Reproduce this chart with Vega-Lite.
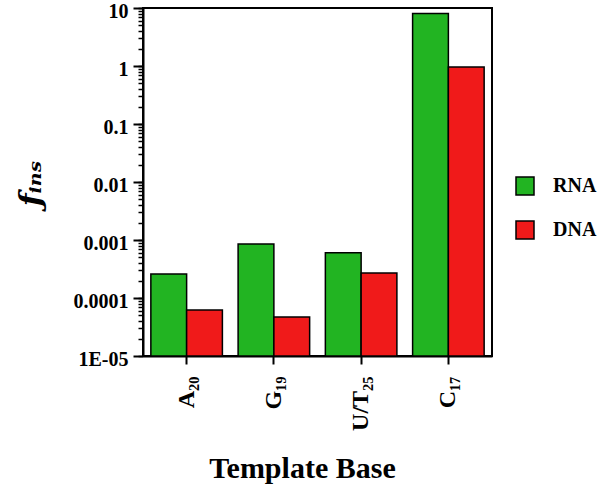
{
  "$schema": "https://vega.github.io/schema/vega-lite/v6.json",
  "width": 349,
  "height": 348,
  "autosize": {"type": "none"},
  "padding": {"left": 143, "top": 8, "right": 108, "bottom": 131},
  "background": "white",
  "config": {
    "view": {"stroke": "black", "strokeWidth": 2},
    "font": "Liberation Serif"
  },
  "data": {
    "values": [
      {"base": "A₂₀", "type": "RNA", "f": 0.00026},
      {"base": "A₂₀", "type": "DNA", "f": 0.000062},
      {"base": "G₁₉", "type": "RNA", "f": 0.00085},
      {"base": "G₁₉", "type": "DNA", "f": 0.000047},
      {"base": "U/T₂₅", "type": "RNA", "f": 0.0006},
      {"base": "U/T₂₅", "type": "DNA", "f": 0.00027},
      {"base": "C₁₇", "type": "RNA", "f": 8},
      {"base": "C₁₇", "type": "DNA", "f": 0.96}
    ]
  },
  "resolve": {"axis": {"y": "independent"}},
  "layer": [
    {
      "mark": {"type": "bar", "stroke": "black", "strokeWidth": 1.5},
      "encoding": {
        "x": {
          "field": "base",
          "type": "nominal",
          "sort": ["A₂₀", "G₁₉", "U/T₂₅", "C₁₇"],
          "scale": {"paddingInner": 0.18, "paddingOuter": 0.09},
          "axis": {
            "title": "Template Base",
            "titleFont": "Liberation Serif",
            "titleFontSize": 30,
            "titleFontWeight": "bold",
            "titleColor": "black",
            "titleAnchor": "start",
            "titleAlign": "center",
            "titleX": 159,
            "titleY": 121,
            "titleBaseline": "alphabetic",
            "labelAngle": 270,
            "labelFont": "Liberation Serif",
            "labelFontSize": 24,
            "labelFontWeight": "bold",
            "labelColor": "black",
            "labelPadding": 12,
            "tickSize": 8,
            "tickWidth": 2,
            "tickColor": "black",
            "domainColor": "black",
            "domainWidth": 2
          }
        },
        "xOffset": {"field": "type", "type": "nominal", "sort": ["RNA", "DNA"], "scale": {"paddingInner": 0, "paddingOuter": 0}},
        "y": {
          "field": "f",
          "type": "quantitative",
          "scale": {"type": "log", "domain": [0.00001, 10], "nice": false},
          "axis": {
            "orient": "left",
            "title": "ƒᵢₙₛ",
            "titleFont": "DejaVu Serif",
            "titleFontSize": 30,
            "titleFontWeight": "bold",
            "titleFontStyle": "italic",
            "titleColor": "black",
            "titleX": -112,
            "titleY": 175,
            "titleAngle": 270,
            "titleAlign": "center",
            "titleBaseline": "middle",
            "values": [0.00001, 0.00002, 0.00003, 0.00004, 0.00005, 0.00006, 0.00007, 0.00008, 0.00009,
                       0.0001, 0.0002, 0.0003, 0.0004, 0.0005, 0.0006, 0.0007, 0.0008, 0.0009,
                       0.001, 0.002, 0.003, 0.004, 0.005, 0.006, 0.007, 0.008, 0.009,
                       0.01, 0.02, 0.03, 0.04, 0.05, 0.06, 0.07, 0.08, 0.09,
                       0.1, 0.2, 0.3, 0.4, 0.5, 0.6, 0.7, 0.8, 0.9,
                       1, 2, 3, 4, 5, 6, 7, 8, 9, 10],
            "labels": false,
            "tickSize": 5,
            "tickWidth": 1.5,
            "tickColor": "black",
            "domainColor": "black",
            "domainWidth": 2,
            "grid": false
          }
        },
        "y2": {"datum": 0.00001},
        "color": {
          "field": "type",
          "type": "nominal",
          "sort": ["RNA", "DNA"],
          "scale": {"domain": ["RNA", "DNA"], "range": ["#22b422", "#f01a1a"]},
          "legend": {
            "title": null,
            "orient": "none",
            "legendX": 372,
            "legendY": 168,
            "symbolType": "square",
            "symbolSize": 324,
            "symbolStrokeColor": "black",
            "symbolStrokeWidth": 1.5,
            "symbolOpacity": 1,
            "rowPadding": 20,
            "labelOffset": 18,
            "labelFont": "Liberation Serif",
            "labelFontSize": 20,
            "labelFontWeight": "bold",
            "labelColor": "black"
          }
        }
      }
    },
    {
      "mark": {"type": "point", "opacity": 0},
      "encoding": {
        "y": {
          "field": "f",
          "type": "quantitative",
          "axis": {
            "orient": "left",
            "title": null,
            "values": [0.00001, 0.0001, 0.001, 0.01, 0.1, 1, 10],
            "labelExpr": "datum.value < 0.00005 ? '1E-05' : format(datum.value, '~g')",
            "labelFont": "Liberation Serif",
            "labelFontSize": 20,
            "labelFontWeight": "bold",
            "labelColor": "black",
            "labelPadding": 5,
            "labelOffset": 3,
            "labelOverlap": false,
            "labelFlush": false,
            "tickSize": 10,
            "tickWidth": 2,
            "tickColor": "black",
            "domain": false,
            "grid": false
          }
        }
      }
    }
  ]
}
